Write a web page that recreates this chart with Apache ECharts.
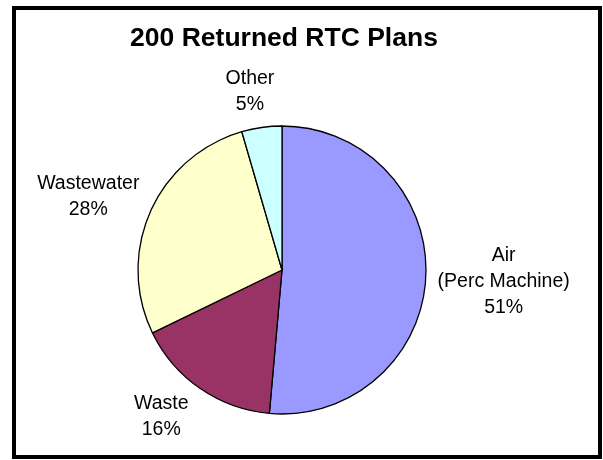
<!DOCTYPE html>
<html>
<head>
<meta charset="utf-8">
<script src="https://cdn.jsdelivr.net/npm/echarts@6/dist/echarts.min.js"></script>
<style>
html,body{margin:0;padding:0;background:#fff;}
#chart{width:603px;height:460px;}
</style>
</head>
<body>
<div id="chart"></div>
<script>
// ---- data ----
var categories = ['Air\n(Perc Machine)', 'Waste', 'Wastewater', 'Other'];
var shares = [51.4, 16.4, 27.7, 4.5];
var titleText = '200 Returned RTC Plans';

// ---- style / layout ----
var colors = ['#9999FF', '#993366', '#FFFFCC', '#CCFFFF'];
var PIE_CX = 282, PIE_CY = 270, PIE_R = 144;
var labelDist = [222, 190, 207, 181];
var labelAngleNudge = [0.6, 4.9, -3.3, -2.1];
var FONT = '"Liberation Sans", Arial, sans-serif';

var total = shares.reduce(function (a, b) { return a + b; }, 0);
var cumStart = [];
(function () { var c = 0; shares.forEach(function (v) { cumStart.push(c); c += v; }); })();

var chart = echarts.init(document.getElementById('chart'), null, { renderer: 'canvas' });
chart.setOption({
  backgroundColor: '#ffffff',
  animation: false,
  title: {
    text: titleText,
    left: 284,
    textAlign: 'center',
    top: 25,
    padding: 0,
    textStyle: { fontFamily: FONT, fontSize: 26.5, fontWeight: 'bold', color: '#000' }
  },
  graphic: [{
    type: 'rect',
    shape: { x: 14, y: 8, width: 586, height: 449 },
    style: { fill: 'none', stroke: '#000', lineWidth: 4 },
    silent: true,
    z: 100
  }],
  series: [{
    type: 'pie',
    center: [PIE_CX, PIE_CY],
    radius: PIE_R,
    startAngle: 90,
    clockwise: true,
    avoidLabelOverlap: false,
    itemStyle: { borderColor: '#000', borderWidth: 1.3 },
    emphasis: { disabled: true },
    label: {
      show: true,
      position: 'outside',
      fontFamily: FONT,
      fontSize: 19.5,
      lineHeight: 26,
      color: '#000',
      formatter: function (p) { return p.name + '\n' + Math.round(p.value / total * 100) + '%'; }
    },
    labelLine: { show: false },
    labelLayout: function (p) {
      var i = p.dataIndex;
      var mid = (cumStart[i] + shares[i] / 2) / total * 360 + labelAngleNudge[i];
      var rad = mid * Math.PI / 180;
      return {
        x: PIE_CX + labelDist[i] * Math.sin(rad),
        y: PIE_CY - labelDist[i] * Math.cos(rad),
        align: 'center',
        verticalAlign: 'middle'
      };
    },
    data: categories.map(function (c, i) {
      return { name: c, value: shares[i], itemStyle: { color: colors[i] } };
    })
  }]
});
</script>
</body>
</html>
